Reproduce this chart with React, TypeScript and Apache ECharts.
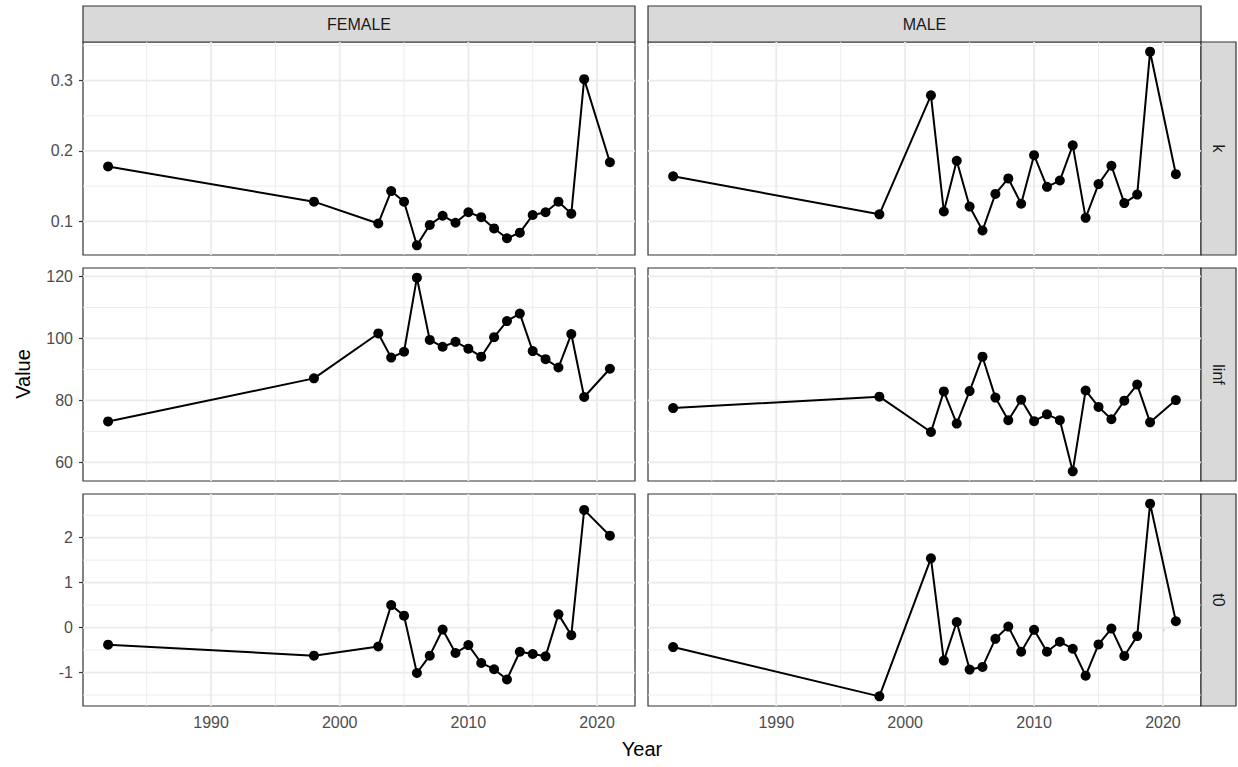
import { useEffect, useRef } from "react";
import * as echarts from "echarts";

// ---------- data ----------
const sexes = ["FEMALE", "MALE"];
const params = ["k", "linf", "t0"];

const femaleYears = [1982, 1998, 2003, 2004, 2005, 2006, 2007, 2008, 2009, 2010, 2011, 2012, 2013, 2014, 2015, 2016, 2017, 2018, 2019, 2021];
const femaleK = [0.178, 0.128, 0.097, 0.143, 0.128, 0.066, 0.095, 0.108, 0.098, 0.113, 0.106, 0.09, 0.076, 0.084, 0.109, 0.113, 0.128, 0.111, 0.302, 0.184];
const femaleLinf = [73.2, 87.1, 101.6, 93.8, 95.7, 119.6, 99.5, 97.3, 98.9, 96.7, 94.1, 100.4, 105.6, 108.0, 95.9, 93.3, 90.6, 101.4, 81.1, 90.2];
const femaleT0 = [-0.38, -0.625, -0.42, 0.5, 0.265, -1.01, -0.625, -0.044, -0.566, -0.39, -0.787, -0.926, -1.154, -0.537, -0.588, -0.64, 0.294, -0.169, 2.618, 2.044];

const maleYears = [1982, 1998, 2002, 2003, 2004, 2005, 2006, 2007, 2008, 2009, 2010, 2011, 2012, 2013, 2014, 2015, 2016, 2017, 2018, 2019, 2021];
const maleK = [0.164, 0.11, 0.279, 0.114, 0.186, 0.121, 0.087, 0.139, 0.161, 0.125, 0.194, 0.149, 0.158, 0.208, 0.105, 0.153, 0.179, 0.126, 0.138, 0.341, 0.167];
const maleLinf = [77.5, 81.2, 69.8, 82.9, 72.5, 83.0, 94.1, 80.9, 73.6, 80.2, 73.3, 75.5, 73.6, 57.1, 83.2, 77.9, 73.9, 79.9, 85.1, 72.9, 80.1];
const maleT0 = [-0.434, -1.53, 1.54, -0.735, 0.125, -0.934, -0.875, -0.25, 0.022, -0.537, -0.05, -0.537, -0.316, -0.47, -1.07, -0.375, -0.022, -0.632, -0.19, 2.757, 0.14];

const xMajor = [1990, 2000, 2010, 2020];
const xMinor = [1985, 1995, 2005, 2015];
const kMajor = [0.1, 0.2, 0.3];
const kMinor = [0.15, 0.25, 0.35];
const linfMajor = [60, 80, 100, 120];
const linfMinor = [70, 90, 110];
const t0Major = [-1, 0, 1, 2];
const t0Minor = [-1.5, -0.5, 0.5, 1.5, 2.5];

const xTitle = "Year";
const yTitle = "Value";

// ---------- helpers ----------
const expand = (vals: number[]) => {
  const lo = Math.min(...vals);
  const hi = Math.max(...vals);
  const pad = (hi - lo) * 0.05;
  return [lo - pad, hi + pad];
};

export default function App() {
  const ref = useRef<HTMLDivElement>(null);

  useEffect(() => {
    if (!ref.current) return;
    const chart = echarts.init(ref.current, undefined, { renderer: "svg" });

    const years = [femaleYears, maleYears];
    const values = [
      [femaleK, maleK],
      [femaleLinf, maleLinf],
      [femaleT0, maleT0],
    ];
    const yMajors = [kMajor, linfMajor, t0Major];
    const yMinors = [kMinor, linfMinor, t0Minor];

    const [xMin, xMax] = expand([...femaleYears, ...maleYears]);
    const yRanges = values.map((row) => expand([...row[0], ...row[1]]));

    // layout
    const colLeft = [83, 648];
    const colWidth = [552, 553];
    const rowTop = [42, 268, 494];
    const rowHeight = [213, 213, 212];
    const stripTop = 6;
    const stripH = 36;
    const stripRightX = 1201;
    const stripRightW = 35;

    const tickColor = "#4D4D4D";
    const fontFamily = "'Liberation Sans', Arial, sans-serif";
    const tickFont = 16;
    const stripFont = 16;
    const titleFont = 20;

    const grids: any[] = [];
    const xAxes: any[] = [];
    const yAxes: any[] = [];
    const series: any[] = [];

    for (let r = 0; r < 3; r++) {
      for (let c = 0; c < 2; c++) {
        const idx = r * 2 + c;
        const [yMin, yMax] = yRanges[r];
        grids.push({
          left: colLeft[c],
          top: rowTop[r],
          width: colWidth[c],
          height: rowHeight[r],
          show: true,
          backgroundColor: "#FFFFFF",
          borderColor: "#333333",
          borderWidth: 1.2,
          containLabel: false,
        });
        xAxes.push({
          gridIndex: idx,
          type: "value",
          min: xMin,
          max: xMax,
          axisLine: { show: false },
          splitLine: { show: false },
          axisTick: {
            show: r === 2,
            customValues: xMajor,
            length: 4,
            lineStyle: { color: "#333333", width: 1.2 },
          },
          axisLabel: {
            show: r === 2,
            customValues: xMajor,
            formatter: (v: number) => String(v),
            color: tickColor,
            fontSize: tickFont,
            fontFamily,
            margin: 8,
          },
        });
        yAxes.push({
          gridIndex: idx,
          type: "value",
          min: yMin,
          max: yMax,
          axisLine: { show: false },
          splitLine: { show: false },
          axisTick: {
            show: c === 0,
            customValues: yMajors[r],
            length: 4,
            lineStyle: { color: "#333333", width: 1.2 },
          },
          axisLabel: {
            show: c === 0,
            customValues: yMajors[r],
            formatter: (v: number) => String(v),
            color: tickColor,
            fontSize: tickFont,
            fontFamily,
            margin: 10,
          },
        });

        // grid lines: [direction (0 vertical,1 horizontal), value, major flag]
        const gridData: number[][] = [];
        xMinor.forEach((v) => gridData.push([0, v, 0]));
        yMinors[r].forEach((v) => gridData.push([1, v, 0]));
        xMajor.forEach((v) => gridData.push([0, v, 1]));
        yMajors[r].forEach((v) => gridData.push([1, v, 1]));

        series.push({
          type: "custom",
          xAxisIndex: idx,
          yAxisIndex: idx,
          silent: true,
          z: 1,
          data: gridData,
          renderItem: (p: any, api: any) => {
            const dir = api.value(0);
            const v = api.value(1);
            const major = api.value(2);
            const cs = p.coordSys;
            let shape;
            if (dir === 0) {
              const pt = api.coord([v, yMin]);
              shape = { x1: pt[0], y1: cs.y, x2: pt[0], y2: cs.y + cs.height };
            } else {
              const pt = api.coord([xMin, v]);
              shape = { x1: cs.x, y1: pt[1], x2: cs.x + cs.width, y2: pt[1] };
            }
            return {
              type: "line",
              shape,
              style: { stroke: "#EBEBEB", lineWidth: major ? 1.8 : 0.9 },
            };
          },
        });

        series.push({
          type: "line",
          xAxisIndex: idx,
          yAxisIndex: idx,
          z: 3,
          data: years[c].map((yr, i) => [yr, values[r][c][i]]),
          symbol: "circle",
          symbolSize: 10,
          showSymbol: true,
          itemStyle: { color: "#000000" },
          lineStyle: { color: "#000000", width: 2 },
          silent: true,
        });
      }
    }

    const graphics: any[] = [];
    // top strips
    for (let c = 0; c < 2; c++) {
      graphics.push({
        type: "rect",
        shape: { x: colLeft[c], y: stripTop, width: colWidth[c], height: stripH },
        style: { fill: "#D9D9D9", stroke: "#333333", lineWidth: 1.2 },
      });
      graphics.push({
        type: "text",
        x: colLeft[c] + colWidth[c] / 2,
        y: stripTop + stripH / 2,
        style: {
          text: sexes[c],
          fill: "#1A1A1A",
          fontSize: stripFont,
          fontFamily,
          textAlign: "center",
          textVerticalAlign: "middle",
        },
      });
    }
    // right strips
    for (let r = 0; r < 3; r++) {
      graphics.push({
        type: "rect",
        shape: { x: stripRightX, y: rowTop[r], width: stripRightW, height: rowHeight[r] },
        style: { fill: "#D9D9D9", stroke: "#333333", lineWidth: 1.2 },
      });
      graphics.push({
        type: "text",
        x: stripRightX + stripRightW / 2,
        y: rowTop[r] + rowHeight[r] / 2,
        rotation: -Math.PI / 2,
        style: {
          text: params[r],
          fill: "#1A1A1A",
          fontSize: stripFont,
          fontFamily,
          textAlign: "center",
          textVerticalAlign: "middle",
        },
      });
    }
    // axis titles
    graphics.push({
      type: "text",
      x: 23,
      y: (rowTop[0] + rowTop[2] + rowHeight[2]) / 2,
      rotation: Math.PI / 2,
      style: {
        text: yTitle,
        fill: "#000000",
        fontSize: titleFont,
        fontFamily,
        textAlign: "center",
        textVerticalAlign: "middle",
      },
    });
    graphics.push({
      type: "text",
      x: (colLeft[0] + colLeft[1] + colWidth[1]) / 2,
      y: 749,
      style: {
        text: xTitle,
        fill: "#000000",
        fontSize: titleFont,
        fontFamily,
        textAlign: "center",
        textVerticalAlign: "middle",
      },
    });

    chart.setOption({
      animation: false,
      backgroundColor: "#FFFFFF",
      textStyle: { fontFamily },
      grid: grids,
      xAxis: xAxes,
      yAxis: yAxes,
      series,
      graphic: { elements: graphics },
    });

    return () => chart.dispose();
  }, []);

  return (
    <div
      ref={ref}
      style={{ position: "absolute", left: 0, top: 0, width: 1238, height: 767 }}
    />
  );
}
